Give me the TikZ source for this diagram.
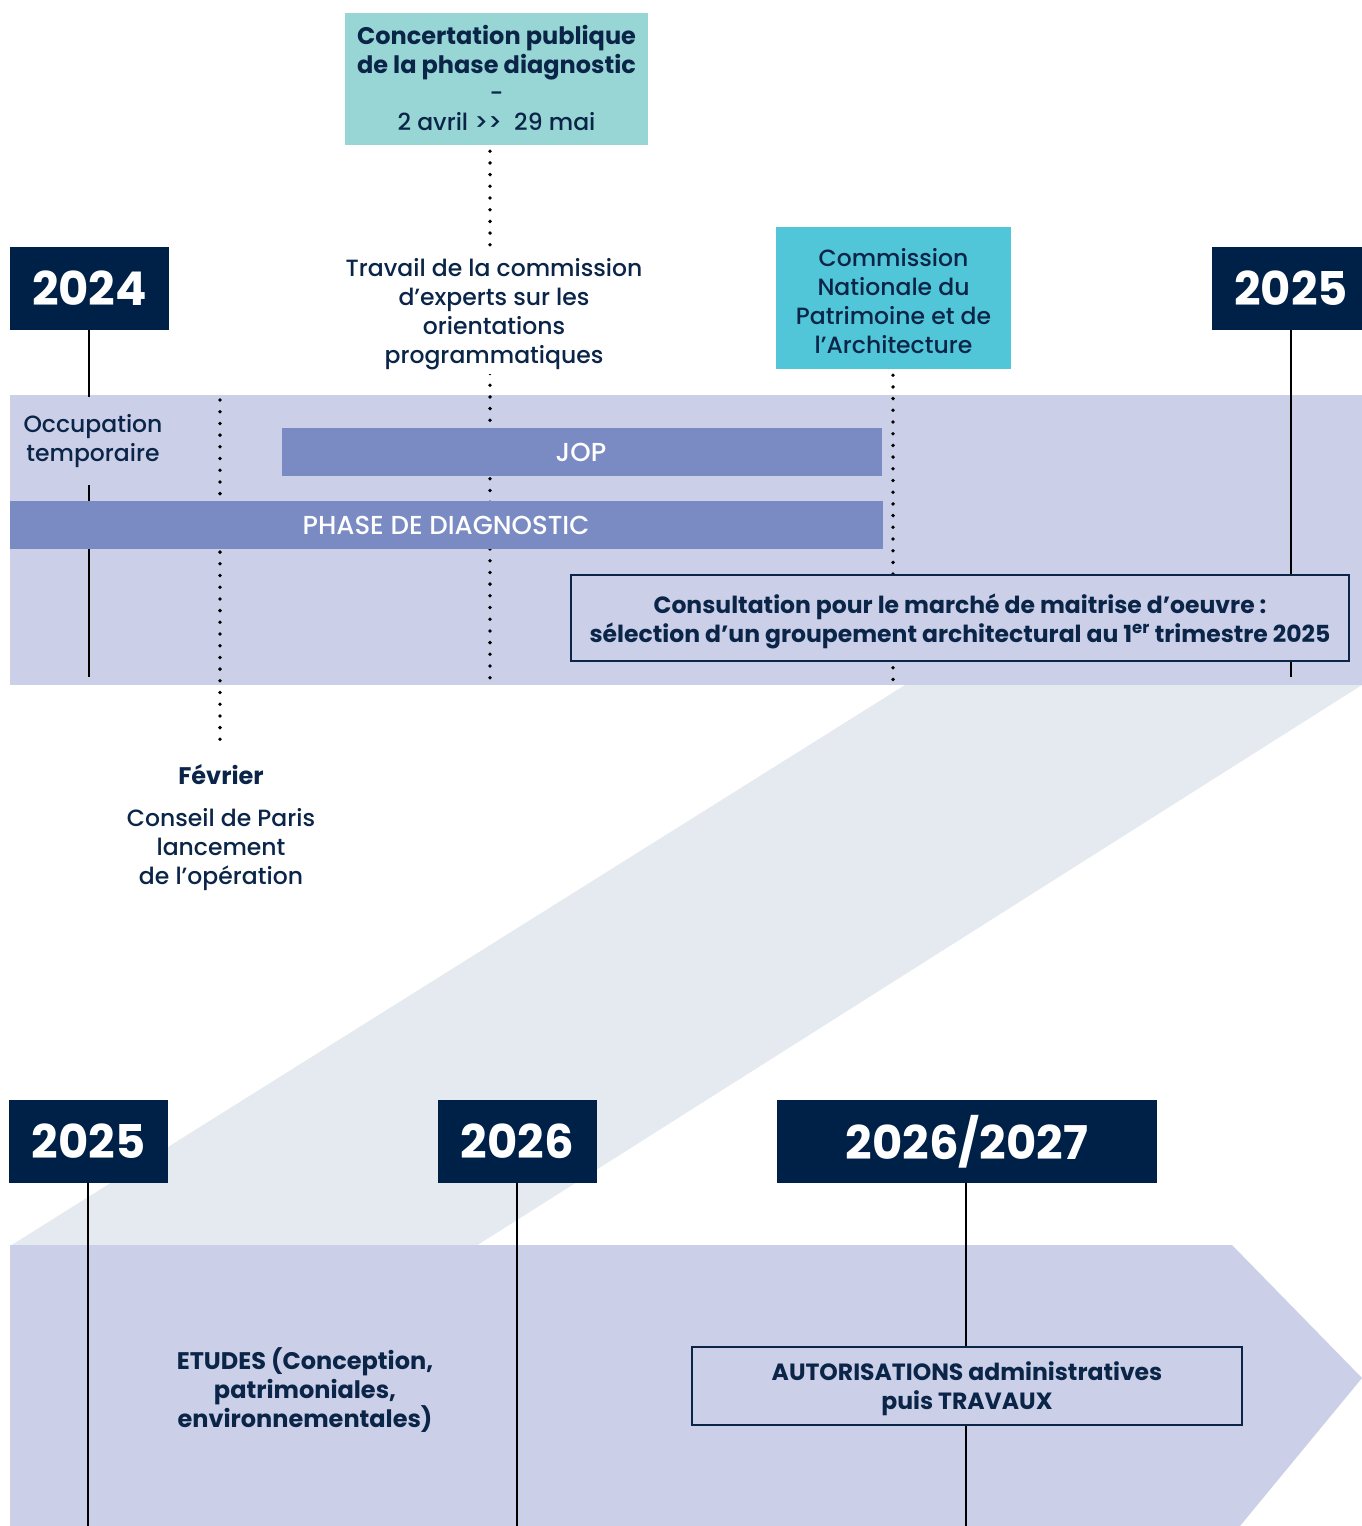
\documentclass[tikz,border=0pt]{standalone}
\usepackage{fontspec}
\setmainfont{Poppins}[UprightFont=* Medium, BoldFont=* Bold]
\definecolor{navy}{RGB}{0,33,71}
\definecolor{tnavy}{RGB}{10,37,72}
\definecolor{lav}{RGB}{203,207,232}
\definecolor{barc}{RGB}{122,139,196}
\definecolor{tealA}{RGB}{152,214,214}
\definecolor{tealB}{RGB}{81,198,216}
\definecolor{diagc}{RGB}{229,234,241}
\tikzset{
  yearbox/.style={fill=navy, text=white, font=\fontsize{46.5}{46.5}\selectfont\bfseries, minimum height=83, inner sep=0},
  txt/.style={text=tnavy, align=center, font=\fontsize{23.5}{29}\selectfont, inner sep=0},
  btxt/.style={text=tnavy, align=center, font=\fontsize{24}{29}\selectfont\bfseries, inner sep=0},
  fbtxt/.style={text=tnavy, align=center, font=\fontsize{23.5}{29}\selectfont\bfseries, inner sep=0},
  bartxt/.style={text=white, font=\fontsize{26}{26}\selectfont, inner sep=0},
  barbox/.style={fill=barc, minimum height=48, inner sep=0},
  framebox/.style={fill=lav, draw=tnavy, line width=1.2pt, inner sep=0},
  vline/.style={draw=black, line width=2pt},
  dotline/.style={draw=black, line width=3.8pt, line cap=round, dash pattern=on 0pt off 11.7pt},
}
\begin{document}
\begin{tikzpicture}[x=1pt,y=-1pt]
\useasboundingbox (0,0) rectangle (1362,1526);
% backgrounds
\fill[lav] (10,395) rectangle (1362,685);
\fill[diagc] (905,685) -- (1362,685) -- (476,1246) -- (10,1246) -- cycle;
\fill[lav] (10,1245) -- (1232,1245) -- (1362,1378) -- (1240,1526) -- (10,1526) -- cycle;

% year boxes
\node[yearbox, minimum width=159] (y2024) at (89.5,288.5) {2024};
\node[yearbox, minimum width=150] (y2025a) at (1287,288.5) {\hspace*{8pt}2025};
\node[yearbox, minimum width=159] (y2025b) at (88.5,1141.5) {2025};
\node[yearbox, minimum width=159] (y2026) at (517.5,1141.5) {2026};
\node[yearbox, minimum width=380] (y2627) at (967,1141.5) {2026/2027};

% coordinates for free ends
\coordinate (e2024) at (89,677);
\coordinate (e2025a) at (1291,677);
\coordinate (e2025b) at (88,1526);
\coordinate (e2026) at (517,1526);
\coordinate (e2627) at (966,1526);
\coordinate (s220) at (220,400);
\coordinate (e220) at (220,746);
\coordinate (e490) at (490,680);
\coordinate (e893) at (893,683);

% top boxes
\node[fill=tealA, minimum width=303, minimum height=132, inner sep=0] (conc) at (496.5,79) {};
\node[fill=tealB, minimum width=235, minimum height=142, inner sep=0] (cnpa) at (893.5,298) {};

% solid lines
\draw[vline] (y2024.south -| e2024) -- (e2024);
\draw[vline] (y2025a.south -| e2025a) -- (e2025a);
\draw[vline] (y2025b.south -| e2025b) -- (e2025b);
\draw[vline] (y2026.south -| e2026) -- (e2026);
\draw[vline] (y2627.south -| e2627) -- (e2627);

% dotted lines
\draw[dotline] (s220) -- (e220);
\draw[dotline] ([yshift=-6pt]conc.south -| e490) -- (e490);
\draw[dotline] ([yshift=-6pt]cnpa.south -| e893) -- (e893);

% texts
\node[btxt] (conct) at (496.5,53) {Concertation publique\\de la phase diagnostic};
\node[txt] (concd) at (496.5,111) {-\\2 avril >{}>\ \ 29 mai};
\node[txt, fill=white, inner sep=4pt] (trav) at (494,314) {Travail de la commission\\d’experts sur les\\orientations\\programmatiques};
\node[txt] (cnpat) at ([yshift=-3pt]cnpa.center) {Commission\\Nationale du\\Patrimoine et de\\l’Architecture};
\node[txt, fill=lav, minimum height=88, inner xsep=2pt] (occ) at (93,441) {Occupation\\temporaire};

% bars
\node[barbox, minimum width=600] (jop) at (582,452) {};
\node[bartxt] (jopt) at (581,452) {JOP};
\node[barbox, minimum width=873] (phase) at (446.5,525) {};
\node[bartxt] (phaset) at (446,525) {PHASE DE DIAGNOSTIC};

% framed boxes
\node[framebox, minimum width=778, minimum height=86] (consult) at (960,618) {};
\node[fbtxt] (consultt) at (960,621) {Consultation pour le marché de maitrise d’oeuvre :\\sélection d’un groupement architectural au 1\textsuperscript{er} trimestre 2025};
\node[framebox, minimum width=550, minimum height=78] (autor) at (967,1386) {};
\node[fbtxt] (autort) at (967,1389) {AUTORISATIONS administratives\\puis TRAVAUX};

% lower texts
\node[btxt] (fev) at (221,775) {Février};
\node[txt] (cons) at (221,850) {Conseil de Paris\\lancement\\de l’opération};
\node[btxt] (etud) at (305,1390.5) {ETUDES (Conception,\\patrimoniales,\\environnementales)};
\end{tikzpicture}
\end{document}
